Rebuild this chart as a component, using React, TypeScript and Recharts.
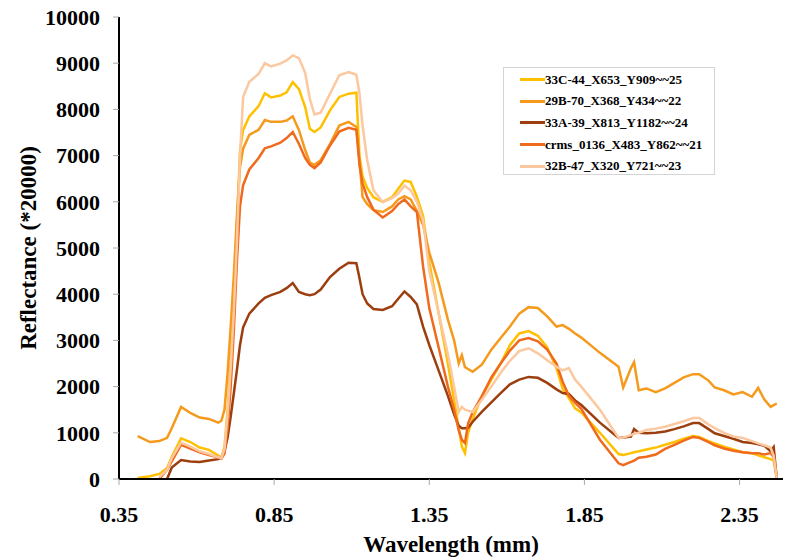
import React from "react";
import { LineChart, Line, XAxis, YAxis } from "recharts";

document.body.style.margin = "0";

// wavelength grid (mm) shared by all spectra
const wavelengths = [
  0.41, 0.45, 0.48, 0.505, 0.52, 0.55, 0.58, 0.61, 0.64, 0.67, 0.68, 0.69, 0.7,
  0.71, 0.72, 0.73, 0.74, 0.75, 0.77, 0.8, 0.82, 0.84, 0.87, 0.89, 0.91, 0.93,
  0.95, 0.965, 0.98, 1.0, 1.03, 1.06, 1.09, 1.115, 1.125, 1.135, 1.15, 1.17,
  1.2, 1.23, 1.25, 1.27, 1.29, 1.31, 1.33, 1.35, 1.38, 1.41, 1.43, 1.445,
  1.455, 1.465, 1.475, 1.49, 1.52, 1.55, 1.58, 1.61, 1.64, 1.67, 1.7, 1.73,
  1.76, 1.78, 1.8, 1.82, 1.84, 1.9, 1.96, 1.975, 2.0, 2.01, 2.025, 2.05, 2.08,
  2.11, 2.14, 2.17, 2.2, 2.22, 2.25, 2.27, 2.3, 2.33, 2.36, 2.39, 2.41, 2.43,
  2.45, 2.46, 2.47,
];

const s33C44 = [
  20, 60, 110, 238, 480, 880, 800, 680, 630, 510, 460, 700, 1500, 2600, 3900,
  5500, 7100, 7550, 7850, 8070, 8350, 8260, 8300, 8370, 8590, 8440, 8050, 7580,
  7510, 7610, 7980, 8270, 8340, 8360, 7000, 6550, 6300, 6100, 6000, 6100, 6280,
  6460, 6430, 6110, 5700, 4700, 3600, 2500, 1700, 1100, 700, 560, 1000, 1300,
  1800, 2150, 2500, 2900, 3150, 3200, 3100, 2850, 2400, 1950, 1750, 1530, 1440,
  1000, 540, 520, 560, 580, 600, 640, 680, 740, 800, 870, 930, 910, 820, 770,
  700, 640, 580, 560, 510, 470, 430, 400, 0,
];

const s29B70 = [
  930, 800, 820, 890, 1100, 1560, 1430, 1330, 1300, 1220, 1260, 1500, 2300,
  3300, 4400, 5700, 6750, 7150, 7450, 7560, 7770, 7730, 7730, 7760, 7850, 7550,
  7120, 6850, 6800, 6900, 7250, 7650, 7730, 7620, 6900, 6100, 5950, 5820, 5780,
  5900, 6050, 6120, 6050, 5800, 5500, 4900, 4250, 3450, 3000, 2500, 2680, 2420,
  2380, 2320, 2480, 2800, 3050, 3300, 3580, 3720, 3700, 3520, 3300, 3330, 3250,
  3150, 3060, 2730, 2430, 1980, 2400, 2530, 1920, 1960, 1880, 1960, 2080, 2200,
  2270, 2270, 2130, 1980, 1920, 1830, 1880, 1780, 1970, 1720, 1560, 1600, 1630,
];

const s33A39 = [
  null, null, null, 0, 250, 410, 380, 370, 400, 430, 460, 600, 900, 1350, 1850,
  2360, 2900, 3280, 3580, 3800, 3920, 3980, 4050, 4130, 4240, 4050, 4000, 3980,
  4000, 4100, 4370, 4550, 4680, 4670, 4350, 4000, 3800, 3680, 3660, 3740, 3900,
  4060, 3940, 3780, 3300, 2900, 2350, 1800, 1400, 1150, 1100, 1100, 1110, 1240,
  1460, 1660, 1860, 2050, 2150, 2210, 2190, 2080, 1940, 1860, 1840, 1700, 1600,
  1220, 890, 900, 920, 1080, 1000, 990, 1000, 1030, 1080, 1140, 1210, 1210,
  1080, 990, 930, 870, 800, 780, 750, 720, 600, 690, 0,
];

const sCrms0136 = [
  null, null, 0, 200, 380, 740, 660, 580, 520, 470, 440, 550, 1100, 2000, 3200,
  4700, 5900, 6360, 6700, 6950, 7160, 7200, 7280, 7380, 7510, 7250, 6950, 6800,
  6730, 6850, 7220, 7520, 7600, 7560, 6800, 6400, 6100, 5830, 5660, 5800, 5950,
  6050, 5900, 5780, 4600, 3700, 2850, 2000, 1500, 1050, 850, 780, 1200, 1450,
  1800, 2200, 2500, 2780, 3000, 3050, 2980, 2800, 2500, 2100, 1800, 1650, 1520,
  850, 340, 300, 370, 400, 460, 480, 530, 650, 740, 830, 910, 890, 800, 730,
  660, 610, 580, 560, 560, 530, 560, 480, 40,
];

const s32B47 = [
  null, null, 40, 200, 450, 790, 700, 600, 540, 470, 450, 650, 1400, 2400, 3600,
  5100, 7000, 8270, 8600, 8770, 9000, 8930, 8990, 9060, 9170, 9110, 8790, 8230,
  7890, 7930, 8340, 8740, 8810, 8750, 8350, 7650, 6900, 6250, 5990, 6080, 6180,
  6350, 6250, 6000, 5600, 4500, 3600, 2700, 2000, 1450, 1560, 1500, 1480, 1450,
  1720, 2000, 2300, 2560, 2770, 2830, 2720, 2570, 2430, 2350, 2400, 2150, 2000,
  1500, 890, 900, 950, 980, 1000, 1060, 1090, 1130, 1190, 1250, 1320, 1320,
  1180, 1100, 1000, 920, 890, 820, 770, 730, 680, 500, 0,
];

const xTicks = [0.35, 0.85, 1.35, 1.85, 2.35];
const yTicks = [0, 1000, 2000, 3000, 4000, 5000, 6000, 7000, 8000, 9000, 10000];

const series = [
  { key: "a", name: "33C-44_X653_Y909~~25", color: "#FFC000", values: s33C44 },
  { key: "b", name: "29B-70_X368_Y434~~22", color: "#F59A1C", values: s29B70 },
  { key: "c", name: "33A-39_X813_Y1182~~24", color: "#9C3E0E", values: s33A39 },
  { key: "d", name: "crms_0136_X483_Y862~~21", color: "#F06A1E", values: sCrms0136 },
  { key: "e", name: "32B-47_X320_Y721~~23", color: "#FBC8A0", values: s32B47 },
];

const rows = wavelengths.map((wl, i) => {
  const row: Record<string, number | null> = { wl };
  series.forEach((s) => {
    row[s.key] = s.values[i];
  });
  return row;
});

const FONT = '"Liberation Serif", "Times New Roman", serif';

const tickStyle = {
  fontFamily: FONT,
  fontWeight: 700,
  fontSize: 22,
  fill: "#000",
};

const frame = { stroke: "#000", strokeWidth: 2 };

function LegendBox() {
  return (
    <div
      style={{
        position: "absolute",
        left: 503,
        top: 67,
        width: 212,
        height: 108,
        border: "1px solid #d4d4d4",
        background: "#fff",
        boxSizing: "border-box",
        paddingTop: 1,
      }}
    >
      {series.map((s) => (
        <div
          key={s.key}
          style={{ display: "flex", alignItems: "center", height: 21.6 }}
        >
          <div
            style={{
              width: 25,
              height: 3,
              marginLeft: 16,
              background: s.color,
            }}
          />
          <span
            style={{
              fontFamily: FONT,
              fontWeight: 700,
              fontSize: 13,
              color: "#000",
              whiteSpace: "nowrap",
            }}
          >
            {s.name}
          </span>
        </div>
      ))}
    </div>
  );
}

export default function App() {
  return (
    <div style={{ position: "relative", width: 786, height: 557, background: "#fff" }}>
      <LineChart
        width={786}
        height={557}
        data={rows}
        margin={{ top: 17, right: 3, left: 0, bottom: 0 }}
      >
        <XAxis
          dataKey="wl"
          type="number"
          domain={[0.35, 2.49]}
          ticks={xTicks}
          tickFormatter={(v: number) => v.toFixed(2)}
          height={78}
          tick={tickStyle}
          tickSize={6}
          tickMargin={21}
          tickLine={{ stroke: "#aaa" }}
          axisLine={frame}
          allowDataOverflow
        />
        {/* top and right edges of the plot frame */}
        <XAxis
          xAxisId="top"
          orientation="top"
          dataKey="wl"
          type="number"
          domain={[0.35, 2.49]}
          height={0}
          tick={false}
          tickLine={false}
          axisLine={frame}
        />
        <YAxis
          type="number"
          domain={[0, 10000]}
          ticks={yTicks}
          width={119}
          tick={tickStyle}
          tickSize={6}
          tickMargin={13}
          tickLine={{ stroke: "#aaa" }}
          axisLine={frame}
          interval={0}
        />
        <YAxis
          yAxisId="right"
          orientation="right"
          type="number"
          domain={[0, 10000]}
          width={0}
          tick={false}
          tickLine={false}
          axisLine={frame}
        />
        {series.map((s) => (
          <Line
            key={s.key}
            dataKey={s.key}
            name={s.name}
            type="linear"
            stroke={s.color}
            strokeWidth={2.5}
            dot={false}
            isAnimationActive={false}
          />
        ))}
      </LineChart>
      <LegendBox />
      <div
        style={{
          position: "absolute",
          left: 29,
          top: 248,
          transform: "translate(-50%, -50%) rotate(-90deg)",
          fontFamily: FONT,
          fontWeight: 700,
          fontSize: 23,
          whiteSpace: "nowrap",
        }}
      >
        Reflectance (*20000)
      </div>
      <div
        style={{
          position: "absolute",
          left: 451,
          top: 545,
          transform: "translate(-50%, -50%)",
          fontFamily: FONT,
          fontWeight: 700,
          fontSize: 23,
          whiteSpace: "nowrap",
        }}
      >
        Wavelength (mm)
      </div>
    </div>
  );
}
